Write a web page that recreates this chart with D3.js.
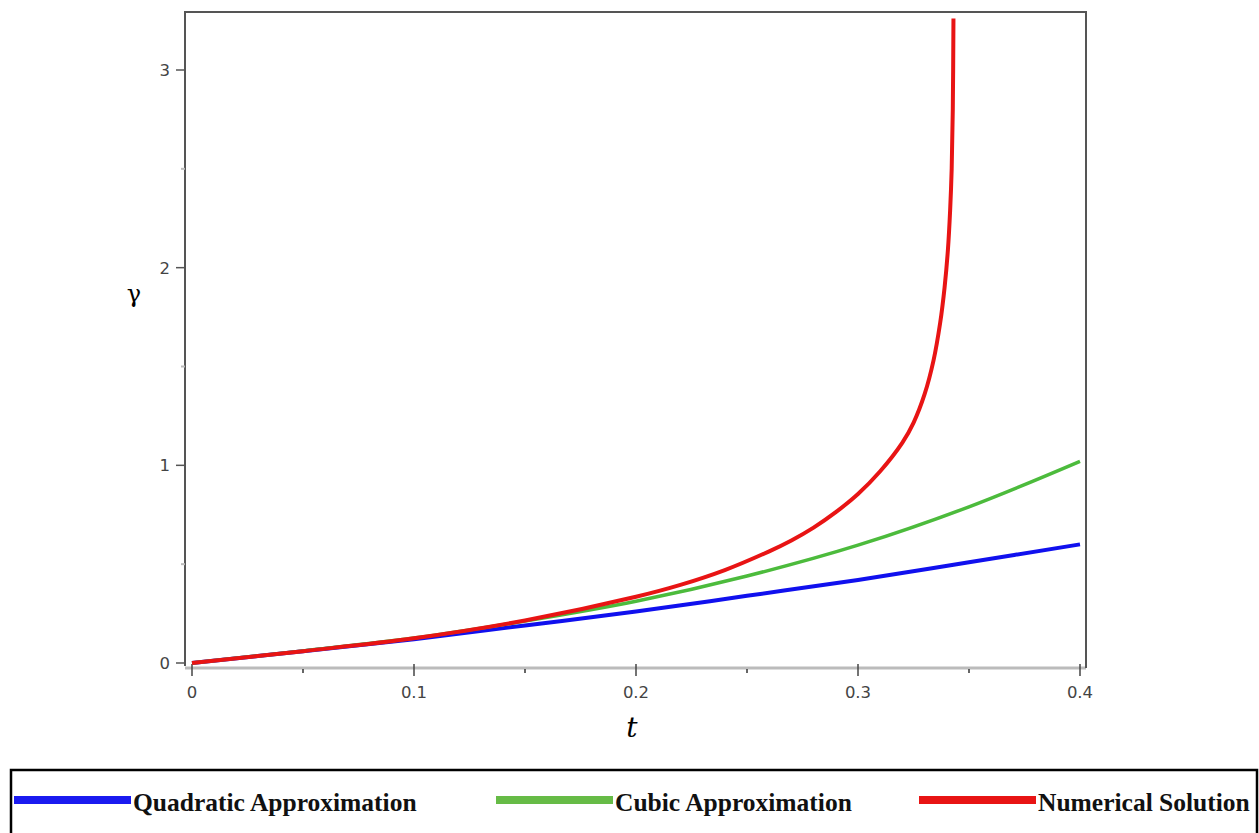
<!DOCTYPE html>
<html>
<head>
<meta charset="utf-8">
<script src="https://cdn.jsdelivr.net/npm/d3@7"></script>
<style>
  body { margin: 0; background: #fff; }
  svg { display: block; }
</style>
</head>
<body>
<svg id="chart" width="1259" height="833"></svg>
<script>
// ==================== DATA ====================
const tValues = [0, 0.05, 0.1, 0.15, 0.2, 0.25, 0.3, 0.35, 0.4];
const quadratic = [0, 0.06, 0.12, 0.19, 0.26, 0.34, 0.42, 0.51, 0.6];
const cubic = [0, 0.061, 0.126, 0.212, 0.312, 0.44, 0.596, 0.79, 1.02];

const tNumerical = [0, 0.05, 0.1, 0.15, 0.2, 0.22, 0.24, 0.26, 0.27, 0.28, 0.29, 0.3, 0.31,
  0.32, 0.325, 0.33, 0.334, 0.337, 0.339, 0.3405, 0.3415, 0.3422, 0.3427, 0.343];
const numerical = [0, 0.06, 0.125, 0.215, 0.335, 0.395, 0.47, 0.565, 0.62, 0.685, 0.763, 0.855, 0.97,
  1.115, 1.215, 1.36, 1.53, 1.72, 1.9, 2.09, 2.29, 2.5, 2.8, 3.26];

const xTicks = [0, 0.1, 0.2, 0.3, 0.4];
const xMinor = [0.05, 0.15, 0.25, 0.35];
const yTicks = [0, 1, 2, 3];
const yMinor = [0.5, 1.5, 2.5];

const legendItems = ["Quadratic Approximation", "Cubic Approximation", "Numerical Solution"];

// ==================== SETUP ====================
const svg = d3.select("#chart");

const x = d3.scaleLinear().domain([0, 0.4]).range([192, 1080]);
const y = d3.scaleLinear().domain([0, 3]).range([663, 70]);

const frame = { left: 185, top: 12, right: 1086, bottom: 668 };

const series = [
  { name: legendItems[0], ts: tValues, vs: quadratic, color: "#1010ee", width: 4 },
  { name: legendItems[1], ts: tValues, vs: cubic, color: "#4cbb3c", width: 3.5 },
  { name: legendItems[2], ts: tNumerical, vs: numerical, color: "#e81414", width: 4 },
];

// ==================== FRAME ====================
// x axis (light gray)
svg.append("line")
  .attr("x1", frame.left).attr("x2", frame.right)
  .attr("y1", frame.bottom).attr("y2", frame.bottom)
  .attr("stroke", "#bbb").attr("stroke-width", 3);

svg.append("path")
  .attr("d", `M${frame.left},${frame.bottom - 2}V${frame.top}H${frame.right}V${frame.bottom}`)
  .attr("fill", "none")
  .attr("stroke", "#555")
  .attr("stroke-width", 2);

// ==================== AXES ====================
const tickFont = "DejaVu Sans, sans-serif";

svg.selectAll(".xtick")
  .data(xTicks)
  .enter()
  .append("line")
  .attr("x1", (d) => x(d)).attr("x2", (d) => x(d))
  .attr("y1", frame.bottom - 4).attr("y2", frame.bottom + 8)
  .attr("stroke", "#444").attr("stroke-width", 1.5);

svg.selectAll(".xminor")
  .data(xMinor)
  .enter()
  .append("line")
  .attr("x1", (d) => x(d)).attr("x2", (d) => x(d))
  .attr("y1", frame.bottom + 1).attr("y2", frame.bottom + 5)
  .attr("stroke", "#333").attr("stroke-width", 1.5);

svg.selectAll(".xlabel")
  .data(xTicks)
  .enter()
  .append("text")
  .attr("x", (d) => x(d))
  .attr("y", 698)
  .attr("text-anchor", "middle")
  .attr("font-family", tickFont)
  .attr("font-size", 16.5)
  .attr("fill", "#444")
  .text((d) => (d === 0 ? "0" : d3.format(".1f")(d)));

svg.selectAll(".ytick")
  .data(yTicks)
  .enter()
  .append("line")
  .attr("x1", frame.left - 9).attr("x2", frame.left)
  .attr("y1", (d) => y(d)).attr("y2", (d) => y(d))
  .attr("stroke", "#555").attr("stroke-width", 1.5);

svg.selectAll(".yminor")
  .data(yMinor)
  .enter()
  .append("line")
  .attr("x1", frame.left - 4).attr("x2", frame.left)
  .attr("y1", (d) => y(d)).attr("y2", (d) => y(d))
  .attr("stroke", "#bbb").attr("stroke-width", 2);

svg.selectAll(".ylabel")
  .data(yTicks)
  .enter()
  .append("text")
  .attr("x", 170)
  .attr("y", (d) => y(d) + 6)
  .attr("text-anchor", "end")
  .attr("font-family", tickFont)
  .attr("font-size", 16.5)
  .attr("fill", "#444")
  .text((d) => d);

// axis titles
svg.append("text")
  .attr("x", 632)
  .attr("y", 737)
  .attr("text-anchor", "middle")
  .attr("font-family", "DejaVu Serif, serif")
  .attr("font-style", "italic")
  .attr("font-size", 28)
  .text("t");

svg.append("text")
  .attr("x", 134)
  .attr("y", 302)
  .attr("text-anchor", "middle")
  .attr("font-family", "DejaVu Serif, serif")
  .attr("font-size", 24)
  .text("γ");

// ==================== CURVES ====================
const line = d3.line()
  .x((d) => x(d[0]))
  .y((d) => y(d[1]))
  .curve(d3.curveCatmullRom.alpha(0.5));

series.forEach((s) => {
  const pts = s.ts.map((t, i) => [t, s.vs[i]]);
  svg.append("path")
    .datum(pts)
    .attr("fill", "none")
    .attr("stroke", s.color)
    .attr("stroke-width", s.width)
    .attr("stroke-linejoin", "round")
    .attr("d", line);
});

// ==================== LEGEND ====================
svg.append("rect")
  .attr("x", 11).attr("y", 770)
  .attr("width", 1246).attr("height", 80)
  .attr("fill", "none")
  .attr("stroke", "#000")
  .attr("stroke-width", 2.5);

const legendPos = [14, 496, 919];
const legendColors = ["#1a1af0", "#66bb46", "#e81414"];

legendItems.forEach((name, i) => {
  svg.append("line")
    .attr("x1", legendPos[i]).attr("x2", legendPos[i] + 117)
    .attr("y1", 800).attr("y2", 800)
    .attr("stroke", legendColors[i])
    .attr("stroke-width", 8);
  svg.append("text")
    .attr("x", legendPos[i] + 119)
    .attr("y", 811)
    .attr("font-family", "Liberation Serif, serif")
    .attr("font-weight", "bold")
    .attr("font-size", 25.5)
    .attr("fill", "#111")
    .text(name);
});
</script>
</body>
</html>
